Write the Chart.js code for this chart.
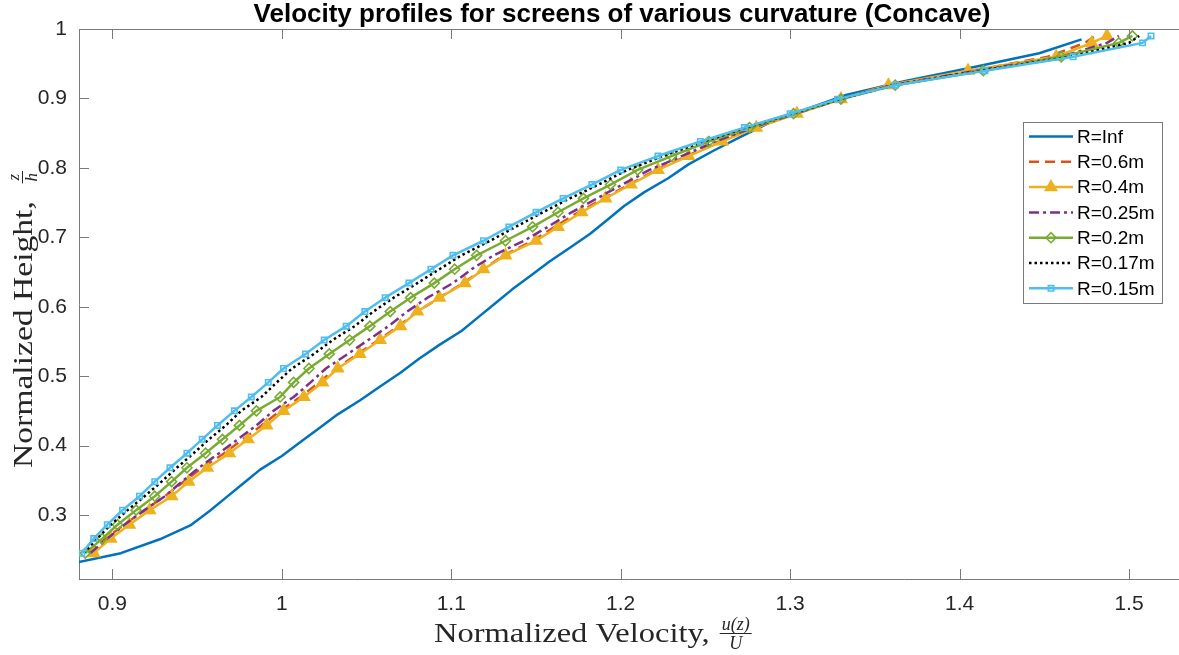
<!DOCTYPE html>
<html>
<head>
<meta charset="utf-8">
<script src="https://cdn.jsdelivr.net/npm/chart.js@4.4.1/dist/chart.umd.min.js"></script>
<style>
  html, body { margin: 0; padding: 0; background: #ffffff; overflow: hidden; }
  #wrap { position: relative; width: 1179px; height: 655px; }
</style>
</head>
<body>
<div id="wrap"><canvas id="c" width="1179" height="655"></canvas></div>
<script>
// Measurement heights z/h shared by the screen profiles
const heights = [0.245,0.266,0.286,0.307,0.327,0.348,0.368,0.389,0.409,0.429,0.450,0.470,0.491,0.511,0.532,0.552,0.572,0.593,0.613,0.634,0.654,0.674,0.695,0.715,0.736,0.756,0.776,0.797,0.817,0.838,0.858,0.878,0.899,0.919,0.940,0.960,0.980,0.990];

// Heights and velocities of the reference profile without a screen (R = Inf)
const heightsInf = [0.232,0.245,0.265,0.285,0.305,0.325,0.345,0.365,0.385,0.405,0.425,0.445,0.465,0.485,0.505,0.525,0.545,0.565,0.585,0.605,0.625,0.645,0.665,0.685,0.705,0.725,0.745,0.765,0.785,0.805,0.825,0.845,0.865,0.885,0.905,0.925,0.945,0.965,0.985];
const uInf = [0.880,0.905,0.928,0.946,0.957,0.967,0.977,0.987,1.000,1.011,1.022,1.033,1.046,1.058,1.070,1.081,1.093,1.106,1.116,1.126,1.136,1.147,1.158,1.170,1.182,1.192,1.202,1.214,1.228,1.240,1.255,1.271,1.288,1.310,1.333,1.368,1.408,1.447,1.472];

// Normalized velocities u(z)/U for each screen radius
const uR060 = [0.886,0.896,0.907,0.919,0.931,0.942,0.953,0.966,0.977,0.988,0.999,1.011,1.022,1.032,1.045,1.057,1.069,1.080,1.093,1.107,1.119,1.131,1.148,1.161,1.175,1.190,1.205,1.221,1.239,1.258,1.279,1.303,1.330,1.357,1.408,1.452,1.474,1.480];
const uR040 = [0.889,0.899,0.910,0.922,0.935,0.945,0.956,0.969,0.980,0.991,1.001,1.013,1.024,1.033,1.046,1.058,1.070,1.080,1.093,1.108,1.119,1.132,1.150,1.163,1.177,1.191,1.206,1.222,1.240,1.260,1.280,1.304,1.330,1.358,1.405,1.457,1.478,1.487];
const uR025 = [0.887,0.897,0.907,0.919,0.931,0.941,0.951,0.963,0.974,0.985,0.995,1.007,1.017,1.026,1.039,1.051,1.063,1.074,1.086,1.101,1.112,1.125,1.143,1.157,1.171,1.186,1.201,1.217,1.236,1.256,1.278,1.303,1.330,1.360,1.410,1.460,1.487,1.494];
const uR020 = [0.884,0.894,0.903,0.914,0.925,0.935,0.944,0.955,0.965,0.975,0.985,0.999,1.007,1.016,1.028,1.040,1.052,1.064,1.076,1.090,1.102,1.115,1.132,1.148,1.163,1.178,1.194,1.210,1.230,1.252,1.276,1.302,1.330,1.362,1.414,1.460,1.494,1.502];
const uR017 = [0.883,0.891,0.899,0.909,0.919,0.929,0.938,0.948,0.957,0.967,0.976,0.988,0.997,1.006,1.019,1.030,1.043,1.054,1.066,1.080,1.093,1.106,1.123,1.138,1.154,1.170,1.187,1.204,1.225,1.249,1.274,1.301,1.329,1.361,1.413,1.465,1.500,1.506];
const uR015 = [0.882,0.889,0.897,0.906,0.916,0.925,0.934,0.944,0.953,0.962,0.972,0.982,0.992,1.001,1.014,1.025,1.038,1.049,1.061,1.075,1.088,1.101,1.119,1.134,1.150,1.166,1.183,1.200,1.222,1.247,1.273,1.300,1.328,1.362,1.415,1.467,1.508,1.513];

const seriesNames = ['R=Inf','R=0.6m','R=0.4m','R=0.25m','R=0.2m','R=0.17m','R=0.15m'];

// Axis ticks
const xTicks = [0.9, 1.0, 1.1, 1.2, 1.3, 1.4, 1.5];
const yTicks = [0.3, 0.4, 0.5, 0.6, 0.7, 0.8, 0.9, 1.0];

const titleText = 'Velocity profiles for screens of various curvature (Concave)';

const AXIS = '#262626';
const AXIS_LINE = '#7a7a7a';
const SANS = '"Liberation Sans", Arial, sans-serif';
const SERIF = '"Liberation Serif", "DejaVu Serif", serif';

function pts(us, zs) { return us.map((u, i) => ({ x: u, y: zs[i] })); }

const styles = [
  { color: '#0072BD', dash: [],            width: 2.5, point: false,      radius: 0 },
  { color: '#D95319', dash: [10, 6],       width: 2.5, point: false,      radius: 0 },
  { color: '#EDB120', dash: [],            width: 2.5, point: 'triangle', radius: 6.5, fill: true },
  { color: '#7E2F8E', dash: [10, 4, 3, 4], width: 2.5, point: false,      radius: 0 },
  { color: '#77AC30', dash: [],            width: 2.5, point: 'rectRot',  radius: 5, fill: false },
  { color: '#000000', dash: [2.5, 3],      width: 2.5, point: false,      radius: 0 },
  { color: '#4DBEEE', dash: [],            width: 2.5, point: 'rect',     radius: 3.8, fill: false }
];

const seriesData = [
  pts(uInf, heightsInf),
  pts(uR060, heights),
  pts(uR040, heights),
  pts(uR025, heights),
  pts(uR020, heights),
  pts(uR017, heights),
  pts(uR015, heights)
];

const datasets = seriesData.map((d, i) => {
  const s = styles[i];
  return {
    label: seriesNames[i],
    data: d,
    borderColor: s.color,
    backgroundColor: s.fill ? s.color : 'rgba(0,0,0,0)',
    borderWidth: s.width,
    borderDash: s.dash,
    borderCapStyle: 'butt',
    borderJoinStyle: 'round',
    pointStyle: s.point || 'circle',
    pointRadius: s.radius,
    pointHoverRadius: s.radius,
    pointBorderWidth: 1.6,
    pointBorderColor: s.color,
    pointBackgroundColor: s.fill ? s.color : 'rgba(0,0,0,0)',
    tension: 0,
    fill: false,
    order: seriesData.length - i
  };
});

// Axes box, inward ticks, title, axis labels and legend
const decor = {
  id: 'decor',
  afterDraw(chart) {
    const { ctx, chartArea: a, scales: { x, y } } = chart;
    const tickLen = 10;
    ctx.save();
    ctx.strokeStyle = AXIS_LINE;
    ctx.lineWidth = 1;
    ctx.setLineDash([]);
    ctx.beginPath();
    ctx.moveTo(a.left, Math.round(a.top) + 0.5);
    ctx.lineTo(a.right, Math.round(a.top) + 0.5);
    xTicks.forEach(v => {
      const px = Math.round(x.getPixelForValue(v)) + 0.5;
      ctx.moveTo(px, a.bottom); ctx.lineTo(px, a.bottom - tickLen);
      ctx.moveTo(px, a.top); ctx.lineTo(px, a.top + tickLen);
    });
    yTicks.forEach(v => {
      const py = Math.round(y.getPixelForValue(v)) + 0.5;
      ctx.moveTo(a.left, py); ctx.lineTo(a.left + tickLen, py);
    });
    ctx.stroke();

    // Title
    ctx.fillStyle = '#000';
    ctx.font = 'bold 26px ' + SANS;
    ctx.textAlign = 'center';
    ctx.textBaseline = 'middle';
    ctx.fillText(titleText, 622, 14.5);

    // Fraction helper: draws num/den centred at (cx, barY)
    function frac(num, den, cx, barY, size) {
      ctx.font = 'italic ' + size + 'px ' + SERIF;
      const w = Math.max(ctx.measureText(num).width, ctx.measureText(den).width) + 4;
      ctx.textAlign = 'center';
      ctx.textBaseline = 'alphabetic';
      ctx.fillText(num, cx, barY - 3);
      ctx.textBaseline = 'top';
      ctx.fillText(den, cx, barY + 2);
      ctx.beginPath();
      ctx.lineWidth = 1;
      ctx.strokeStyle = AXIS;
      ctx.moveTo(cx - w / 2, barY + 0.5);
      ctx.lineTo(cx + w / 2, barY + 0.5);
      ctx.stroke();
      return w;
    }

    const LABEL_SIZE = 28, STRETCH = 1.16;

    // X axis label
    ctx.fillStyle = AXIS;
    ctx.save();
    ctx.translate(434, 642);
    ctx.scale(STRETCH, 1);
    ctx.font = LABEL_SIZE + 'px ' + SERIF;
    const xl = 'Normalized Velocity,';
    const xw = ctx.measureText(xl).width;
    ctx.textAlign = 'left';
    ctx.textBaseline = 'alphabetic';
    ctx.fillText(xl, 0, 0);
    ctx.restore();
    frac('u(z)', 'U', 434 + xw * STRETCH + 26, 633, 18);

    // Y axis label
    ctx.save();
    ctx.translate(32, 468);
    ctx.rotate(-Math.PI / 2);
    ctx.save();
    ctx.scale(STRETCH + 0.04, 1);
    ctx.font = LABEL_SIZE + 'px ' + SERIF;
    const yl = 'Normalized Height,';
    const yw = ctx.measureText(yl).width;
    ctx.textAlign = 'left';
    ctx.textBaseline = 'alphabetic';
    ctx.fillText(yl, 0, 0);
    ctx.restore();
    frac('z', 'h', yw * (STRETCH + 0.04) + 24, -10, 17);
    ctx.restore();

    // Legend
    const box = { l: 1023, t: 122, r: 1162, b: 303 };
    ctx.fillStyle = '#fff';
    ctx.fillRect(box.l, box.t, box.r - box.l, box.b - box.t);
    ctx.strokeStyle = AXIS_LINE;
    ctx.lineWidth = 1;
    ctx.setLineDash([]);
    ctx.strokeRect(box.l + 0.5, box.t + 0.5, box.r - box.l, box.b - box.t);
    const rowH = 25.3;
    const y0 = 136.5;
    chart.data.datasets.forEach((ds, i) => {
      const ry = y0 + i * rowH;
      const x1 = 1029, x2 = 1073;
      ctx.beginPath();
      ctx.strokeStyle = ds.borderColor;
      ctx.lineWidth = ds.borderWidth;
      ctx.lineCap = 'butt';
      ctx.setLineDash(ds.borderDash);
      ctx.moveTo(x1, ry); ctx.lineTo(x2, ry);
      ctx.stroke();
      ctx.setLineDash([]);
      if (ds.pointRadius > 0) {
        ctx.strokeStyle = ds.pointBorderColor;
        ctx.fillStyle = ds.pointBackgroundColor;
        ctx.lineWidth = ds.pointBorderWidth;
        Chart.helpers.drawPoint(ctx, { pointStyle: ds.pointStyle, radius: ds.pointRadius, borderWidth: ds.pointBorderWidth, rotation: 0 }, (x1 + x2) / 2, ry);
      }
      ctx.fillStyle = '#000';
      ctx.font = '19px ' + SANS;
      ctx.textAlign = 'left';
      ctx.textBaseline = 'middle';
      ctx.fillText(ds.label, 1077, ry + 1);
    });
    ctx.restore();
  }
};

const fmt = v => String(Number(v.toFixed(2)));

new Chart(document.getElementById('c'), {
  type: 'line',
  data: { datasets },
  options: {
    responsive: false,
    devicePixelRatio: 1,
    animation: false,
    layout: { autoPadding: false, padding: { top: 29, right: 0, bottom: 0, left: 0 } },
    plugins: { legend: { display: false }, title: { display: false }, tooltip: { enabled: false } },
    scales: {
      x: {
        type: 'linear',
        min: 0.8803,
        max: 1.5295,
        afterBuildTicks: s => { s.ticks = xTicks.map(v => ({ value: v })); },
        afterFit: s => { s.height = 76; s.paddingLeft = 0; s.paddingRight = 0; },
        grid: { display: false, drawTicks: false },
        border: { display: true, color: AXIS_LINE, width: 1 },
        ticks: { color: AXIS, font: { family: SANS, size: 21 }, padding: 13, maxRotation: 0, callback: v => fmt(v) }
      },
      y: {
        type: 'linear',
        min: 0.2078,
        max: 1,
        afterBuildTicks: s => { s.ticks = yTicks.map(v => ({ value: v })); },
        afterFit: s => { s.width = 79; s.paddingTop = 0; s.paddingBottom = 0; },
        grid: { display: false, drawTicks: false },
        border: { display: true, color: AXIS_LINE, width: 1 },
        ticks: { color: AXIS, font: { family: SANS, size: 21 }, padding: 12, callback: v => fmt(v) }
      }
    }
  },
  plugins: [decor]
});
</script>
</body>
</html>
